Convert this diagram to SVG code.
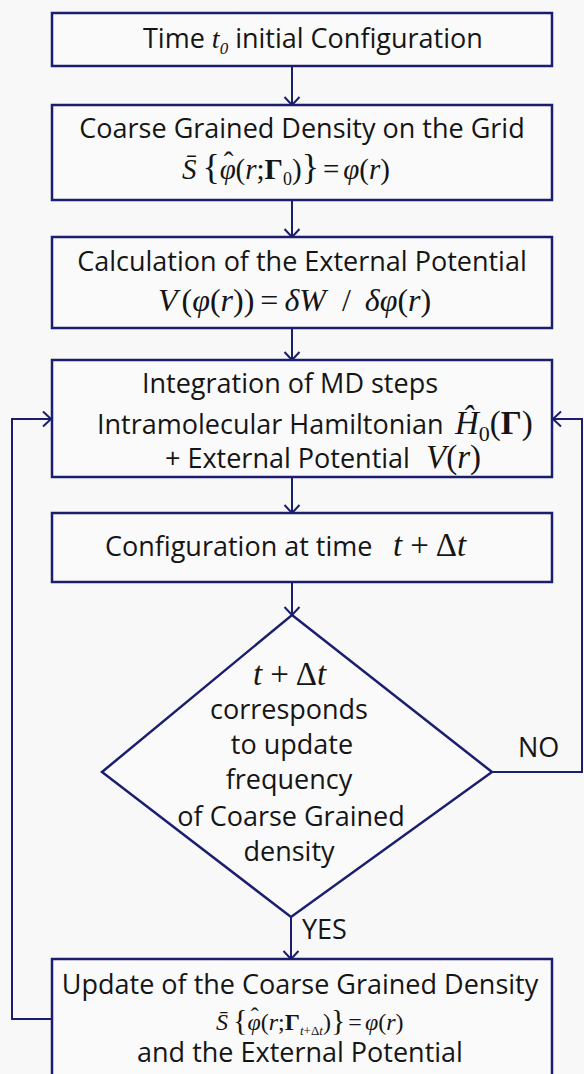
<svg xmlns="http://www.w3.org/2000/svg" width="584" height="1074" viewBox="0 0 584 1074">
<style>
.bx{fill:#fafafa;stroke:#1b1e6e;stroke-width:2.5}
.ln{fill:none;stroke:#1b1e6e;stroke-width:2}
.t{font-family:"Open Sans","Noto Sans",sans-serif;font-size:27px;fill:#151515}
.m{font-family:"Liberation Serif","Times New Roman",serif;font-style:italic;fill:#151515}
.u{font-family:"Liberation Serif","Times New Roman",serif;font-style:normal;fill:#151515}
.b{font-family:"Liberation Serif","Times New Roman",serif;font-style:normal;font-weight:bold;fill:#151515}
</style>
<defs>
<marker id="ar" markerUnits="userSpaceOnUse" markerWidth="20" markerHeight="20" viewBox="0 0 20 20" refX="10" refY="10" orient="auto">
<path d="M2,2.5 L10,10 L2,17.5" fill="none" stroke="#1b1e6e" stroke-width="2"/>
</marker>
</defs>
<rect width="584" height="1074" fill="#f8f8f8"/>
<g id="connectors">
<line class="ln" x1="292" y1="66" x2="292" y2="105" marker-end="url(#ar)"/>
<line class="ln" x1="292" y1="200" x2="292" y2="237" marker-end="url(#ar)"/>
<line class="ln" x1="292" y1="328" x2="292" y2="360" marker-end="url(#ar)"/>
<line class="ln" x1="292" y1="477" x2="292" y2="513" marker-end="url(#ar)"/>
<line class="ln" x1="292" y1="582" x2="292" y2="615" marker-end="url(#ar)"/>
<line class="ln" x1="291" y1="917" x2="291" y2="959" marker-end="url(#ar)"/>
<polyline class="ln" points="492,772 582,772 582,419 553,419" marker-end="url(#ar)"/>
<polyline class="ln" points="52,1019 12,1019 12,419 51,419" marker-end="url(#ar)"/>
<text class="t" x="518" y="757">NO</text>
<text class="t" x="302" y="939">YES</text>
</g>
<g id="n1">
<rect class="bx" x="52" y="13" width="500" height="53"/>
<text class="t" x="143" y="48">Time <tspan class="m" font-size="28">t</tspan><tspan class="m" font-size="17" dy="6">0</tspan><tspan dy="-6"> initial Configuration</tspan></text>
</g>
<g id="n2">
<rect class="bx" x="52" y="105" width="500" height="95"/>
<text class="t" x="302" y="138" text-anchor="middle" font-size="26.5">Coarse Grained Density on the Grid</text>
<text x="182" y="179" font-size="29"><tspan class="m">S̄</tspan><tspan class="u" font-size="36" dx="6">{</tspan><tspan class="m">φ</tspan><tspan class="u" dx="-12" dy="-7">ˆ</tspan><tspan class="u" dx="2" dy="7">(</tspan><tspan class="m">r</tspan><tspan class="u">;</tspan><tspan class="b">Γ</tspan><tspan class="u" font-size="18" dy="6">0</tspan><tspan class="u" dy="-6">)</tspan><tspan class="u" font-size="36">}</tspan><tspan class="u" dx="4">=</tspan><tspan class="m" dx="4">φ</tspan><tspan class="u">(</tspan><tspan class="m">r</tspan><tspan class="u">)</tspan></text>
</g>
<g id="n3">
<rect class="bx" x="52" y="237" width="500" height="91"/>
<text class="t" x="302" y="271" text-anchor="middle">Calculation of the External Potential</text>
<text x="158" y="311" font-size="32"><tspan class="m">V</tspan><tspan class="u" dx="4">(</tspan><tspan class="m">φ</tspan><tspan class="u">(</tspan><tspan class="m">r</tspan><tspan class="u">))</tspan><tspan class="u" dx="6">=</tspan><tspan class="m" dx="6">δW</tspan><tspan class="u" dx="16">/</tspan><tspan class="m" dx="14">δφ</tspan><tspan class="u">(</tspan><tspan class="m">r</tspan><tspan class="u">)</tspan></text>
</g>
<g id="n4">
<rect class="bx" x="52" y="360" width="500" height="117"/>
<text class="t" x="290" y="393" text-anchor="middle">Integration of MD steps</text>
<text class="t" x="97" y="434">Intramolecular Hamiltonian</text>
<text x="455" y="434" font-size="33"><tspan class="m">Ĥ</tspan><tspan class="u" font-size="22" dy="7">0</tspan><tspan class="u" dy="-7">(</tspan><tspan class="b">Γ</tspan><tspan class="u">)</tspan></text>
<text class="t" x="165" y="468">+ External Potential</text>
<text x="426" y="468" font-size="33"><tspan class="m">V</tspan><tspan class="u">(</tspan><tspan class="m">r</tspan><tspan class="u">)</tspan></text>
</g>
<g id="n5">
<rect class="bx" x="52" y="513" width="500" height="69"/>
<text class="t" x="105" y="556">Configuration at time</text>
<text x="393" y="556" font-size="33"><tspan class="m">t</tspan><tspan class="u" dx="8">+</tspan><tspan class="u" dx="7">Δ</tspan><tspan class="m">t</tspan></text>
</g>
<g id="n6">
<polygon class="bx" points="292,615 492,772 291,917 102,772"/>
<text x="253" y="685" font-size="33"><tspan class="m">t</tspan><tspan class="u" dx="8">+</tspan><tspan class="u" dx="7">Δ</tspan><tspan class="m">t</tspan></text>
<text class="t" font-size="28" text-anchor="middle"><tspan x="289" y="719">corresponds</tspan><tspan x="292" y="754">to update</tspan><tspan x="289" y="789">frequency</tspan><tspan x="291" y="826">of Coarse Grained</tspan><tspan x="289" y="861">density</tspan></text>
</g>
<g id="n7">
<rect class="bx" x="52" y="959" width="500" height="130"/>
<text class="t" x="300" y="994" text-anchor="middle" font-size="28">Update of the Coarse Grained Density</text>
<text x="216" y="1030" font-size="24"><tspan class="m">S̄</tspan><tspan class="u" font-size="30" dx="5">{</tspan><tspan class="m">φ</tspan><tspan class="u" dx="-10" dy="-6">ˆ</tspan><tspan class="u" dx="2" dy="6">(</tspan><tspan class="m">r</tspan><tspan class="u">;</tspan><tspan class="b">Γ</tspan><tspan class="m" font-size="13" dy="5">t</tspan><tspan class="u" font-size="13">+Δ</tspan><tspan class="m" font-size="13">t</tspan><tspan class="u" dy="-5">)</tspan><tspan class="u" font-size="30">}</tspan><tspan class="u" dx="3">=</tspan><tspan class="m" dx="3">φ</tspan><tspan class="u">(</tspan><tspan class="m">r</tspan><tspan class="u">)</tspan></text>
<text class="t" x="300" y="1062" text-anchor="middle">and the External Potential</text>
</g>
</svg>
